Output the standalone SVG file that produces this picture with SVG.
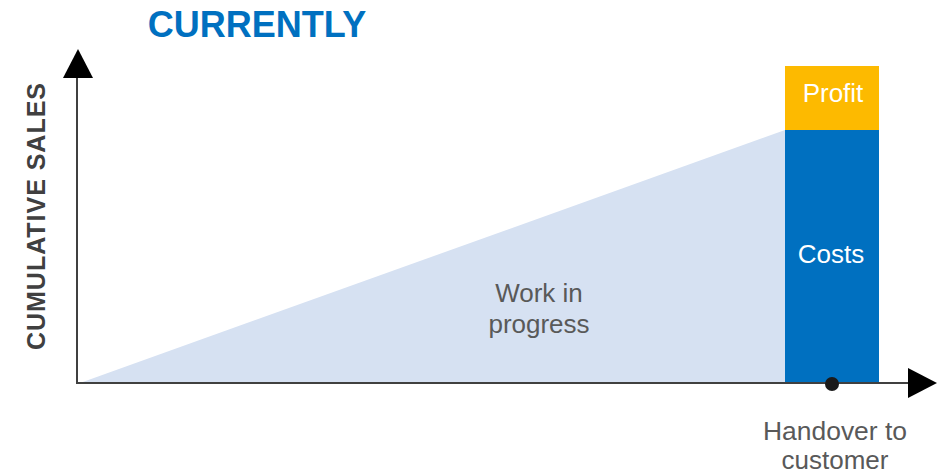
<svg xmlns="http://www.w3.org/2000/svg" width="941" height="475" viewBox="0 0 941 475">
  <style>
    .lbl { font-family: "Liberation Sans", Arial, sans-serif; font-size: 26px; text-anchor: middle; }
    .gray { fill: #595959; }
    .white { fill: #ffffff; }
    .axis { stroke: #404040; stroke-width: 2; fill: none; }
    .head { fill: #000000; }
  </style>

  <!-- Title -->
  <text x="257" y="37" font-family="Liberation Sans, Arial, sans-serif" font-size="36" font-weight="bold" fill="#0070C0" text-anchor="middle">CURRENTLY</text>

  <!-- Work in progress wedge -->
  <g id="wip">
    <polygon points="80,383 785,130 785,383" fill="#D6E1F2"/>
    <text class="lbl gray" x="539" y="302">Work in</text>
    <text class="lbl gray" x="539" y="333">progress</text>
  </g>

  <!-- Costs bar -->
  <g id="costs">
    <rect x="785" y="130" width="94" height="253" fill="#0070C0"/>
    <text class="lbl white" x="831" y="263">Costs</text>
  </g>

  <!-- Profit bar -->
  <g id="profit">
    <rect x="785" y="66" width="94" height="64" fill="#FDBA00"/>
    <text class="lbl white" x="833" y="102">Profit</text>
  </g>

  <!-- Axes -->
  <g id="connectors">
    <line class="axis" x1="77" y1="384" x2="77" y2="76"/>
    <polygon class="head" points="78,49 63,78 93,78"/>
    <line class="axis" x1="76" y1="383" x2="910" y2="383"/>
    <polygon class="head" points="937,383 908,368 908,398"/>
  </g>

  <!-- Y axis title -->
  <text transform="translate(45,216.5) rotate(-90)" font-family="Liberation Sans, Arial, sans-serif" font-size="25" font-weight="bold" fill="#404040" text-anchor="middle" textLength="267" lengthAdjust="spacing">CUMULATIVE SALES</text>

  <!-- Handover milestone -->
  <g id="handover">
    <circle cx="832" cy="384" r="7" fill="#1a1a1a"/>
    <text class="lbl gray" x="835" y="440" textLength="144" lengthAdjust="spacingAndGlyphs">Handover to</text>
    <text class="lbl gray" x="835" y="469">customer</text>
  </g>
</svg>
